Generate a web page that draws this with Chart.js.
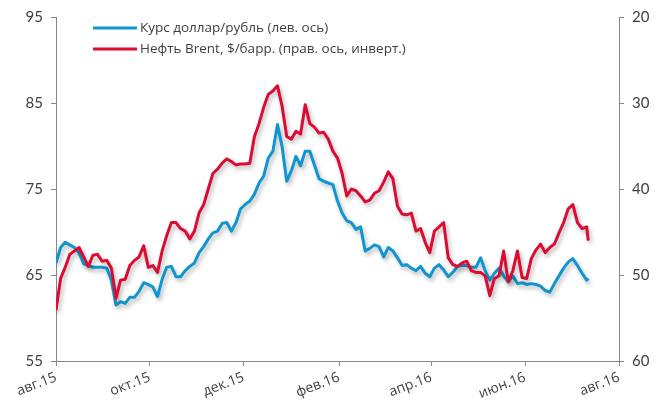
<!DOCTYPE html>
<html>
<head>
<meta charset="utf-8">
<script src="https://cdn.jsdelivr.net/npm/chart.js@4"></script>
<style>
  html, body { margin: 0; padding: 0; background: #fff; }
  #wrap { width: 659px; height: 408px; }
</style>
</head>
<body>
<div id="wrap"><canvas id="rubChart" width="659" height="408"></canvas></div>
<script>
// Dates of the readings (every 3 days)
const dates = [
    '2015-08-01', '2015-08-04', '2015-08-07', '2015-08-10', '2015-08-13', '2015-08-16', '2015-08-19', '2015-08-22',
    '2015-08-25', '2015-08-28', '2015-08-31', '2015-09-03', '2015-09-06', '2015-09-09', '2015-09-12', '2015-09-15',
    '2015-09-18', '2015-09-21', '2015-09-24', '2015-09-27', '2015-09-30', '2015-10-03', '2015-10-06', '2015-10-09',
    '2015-10-12', '2015-10-15', '2015-10-18', '2015-10-21', '2015-10-24', '2015-10-27', '2015-10-30', '2015-11-02',
    '2015-11-05', '2015-11-08', '2015-11-11', '2015-11-14', '2015-11-17', '2015-11-20', '2015-11-23', '2015-11-26',
    '2015-11-29', '2015-12-02', '2015-12-05', '2015-12-08', '2015-12-11', '2015-12-14', '2015-12-17', '2015-12-20',
    '2015-12-23', '2015-12-26', '2015-12-29', '2016-01-01', '2016-01-04', '2016-01-07', '2016-01-10', '2016-01-13',
    '2016-01-16', '2016-01-19', '2016-01-22', '2016-01-25', '2016-01-28', '2016-01-31', '2016-02-03', '2016-02-06',
    '2016-02-09', '2016-02-12', '2016-02-15', '2016-02-18', '2016-02-21', '2016-02-24', '2016-02-27', '2016-03-01',
    '2016-03-04', '2016-03-07', '2016-03-10', '2016-03-13', '2016-03-16', '2016-03-19', '2016-03-22', '2016-03-25',
    '2016-03-28', '2016-03-31', '2016-04-03', '2016-04-06', '2016-04-09', '2016-04-12', '2016-04-15', '2016-04-18',
    '2016-04-21', '2016-04-24', '2016-04-27', '2016-04-30', '2016-05-03', '2016-05-06', '2016-05-09', '2016-05-12',
    '2016-05-15', '2016-05-18', '2016-05-21', '2016-05-24', '2016-05-27', '2016-05-30', '2016-06-02', '2016-06-05',
    '2016-06-08', '2016-06-11', '2016-06-14', '2016-06-17', '2016-06-20', '2016-06-23', '2016-06-26', '2016-06-29',
    '2016-07-02', '2016-07-05', '2016-07-08', '2016-07-11', '2016-07-12'
];

// USD/RUB, left axis
const usdRub = [
    66.4, 68.2, 68.8, 68.5, 68.2, 67.6, 66.3, 66.1, 65.9, 65.9, 65.9, 65.8, 64.4, 61.5, 61.9, 61.7,
    62.4, 62.4, 63.1, 64.1, 63.9, 63.6, 62.5, 64.5, 65.9, 66.0, 64.8, 64.8, 65.5, 66.0, 66.4, 67.6,
    68.3, 69.2, 69.9, 70.1, 71.0, 71.1, 70.1, 71.1, 72.7, 73.2, 73.6, 74.4, 75.7, 76.5, 78.6, 79.4,
    82.5, 79.9, 75.9, 77.1, 78.8, 77.7, 79.4, 79.4, 77.8, 76.2, 75.9, 75.7, 75.5, 73.6, 72.2, 71.3,
    71.1, 70.3, 70.6, 67.8, 68.1, 68.5, 68.3, 67.1, 68.2, 67.8, 67.0, 66.1, 66.2, 65.8, 65.5, 66.0,
    65.2, 64.8, 65.8, 66.2, 65.6, 64.8, 65.3, 66.0, 66.1, 66.1, 65.9, 65.9, 67.0, 65.5, 64.4, 65.2,
    65.8, 64.9, 64.2, 64.9, 64.0, 64.1, 63.9, 64.0, 63.9, 63.7, 63.2, 63.0, 64.0, 64.9, 65.8, 66.5,
    66.9, 66.1, 65.2, 64.4, 64.6
];

// Brent, $/bbl, right axis (inverted)
const brent = [
    54.1, 50.4, 49.1, 47.6, 47.2, 46.8, 47.9, 49.0, 47.7, 47.6, 48.4, 48.3, 49.2, 52.7, 50.6, 50.5,
    48.9, 48.3, 47.9, 46.6, 49.1, 48.9, 49.7, 47.2, 45.4, 43.9, 43.9, 44.6, 44.9, 45.8, 44.9, 42.8,
    41.8, 40.0, 38.2, 37.7, 37.0, 36.5, 36.8, 37.2, 37.1, 37.1, 37.0, 33.9, 32.4, 30.5, 29.0, 28.6,
    28.0, 30.4, 33.9, 34.2, 33.3, 33.6, 30.2, 32.4, 32.8, 33.5, 33.4, 34.2, 35.6, 36.4, 38.2, 40.8,
    40.0, 40.2, 40.8, 41.5, 41.3, 40.5, 40.2, 39.2, 38.0, 38.8, 42.0, 42.9, 43.0, 42.8, 44.9, 44.6,
    46.2, 47.4, 44.9, 44.4, 43.9, 48.0, 48.8, 49.0, 48.6, 48.4, 49.5, 49.7, 49.7, 50.1, 52.4, 50.4,
    50.1, 47.2, 50.8, 49.5, 47.2, 50.3, 50.4, 48.1, 47.1, 46.4, 47.4, 46.8, 46.4, 45.1, 43.9, 42.3,
    41.8, 43.9, 44.6, 44.4, 46.0
];

const seriesNames = ['Курс доллар/рубль (лев. ось)', 'Нефть Brent, $/барр. (прав. ось, инверт.)'];
const seriesColors = ['#0f95cf', '#dc0b33'];

const tickDates = ['2015-08-01', '2015-10-01', '2015-12-01', '2016-02-01', '2016-04-01', '2016-06-01', '2016-08-01'];
const tickLabels = ['авг.15', 'окт.15', 'дек.15', 'фев.16', 'апр.16', 'июн.16', 'авг.16'];

const leftTicks = [55, 65, 75, 85, 95];
const rightTicks = [20, 30, 40, 50, 60];

const FONT = 'Lato, "Open Sans", sans-serif';
const TEXT_COLOR = '#404040';
const AXIS_COLOR = '#868686';

// days since 1 Aug 2015
function dayOf(s) {
    const p = s.split('-').map(Number);
    return (Date.UTC(p[0], p[1] - 1, p[2]) - Date.UTC(2015, 7, 1)) / 86400000;
}

const toPoints = values => values.map((v, i) => ({ x: dayOf(dates[i]), y: v }));

// soft drop shadow under the lines, as in the original
const shadowPlugin = {
    id: 'lineShadow',
    beforeDatasetDraw(chart) {
        const ctx = chart.ctx;
        ctx.save();
        ctx.shadowColor = 'rgba(0, 0, 0, 0.28)';
        ctx.shadowBlur = 4;
        ctx.shadowOffsetX = 2;
        ctx.shadowOffsetY = 3;
    },
    afterDatasetDraw(chart) {
        chart.ctx.restore();
    }
};

// legend drawn inside the plot, top left
const innerLegend = {
    id: 'innerLegend',
    afterDraw(chart) {
        const ctx = chart.ctx;
        ctx.save();
        ctx.font = '13.5px "Open Sans", sans-serif';
        ctx.textBaseline = 'middle';
        chart.data.datasets.forEach((ds, i) => {
            const y = 28 + i * 21;
            ctx.strokeStyle = ds.borderColor;
            ctx.lineWidth = 3;
            ctx.beginPath();
            ctx.moveTo(93, y);
            ctx.lineTo(137, y);
            ctx.stroke();
            ctx.fillStyle = TEXT_COLOR;
            ctx.fillText(ds.label, 140, y);
        });
        ctx.restore();
    }
};

const axisGrid = {
    display: true,
    drawOnChartArea: false,
    drawTicks: true,
    tickLength: 5,
    color: AXIS_COLOR
};

const ctx = document.getElementById('rubChart');
const rubChart = new Chart(ctx, {
    type: 'line',
    data: {
        datasets: [{
            label: seriesNames[0],
            data: toPoints(usdRub),
            borderColor: seriesColors[0],
            yAxisID: 'yLeft',
            order: 1
        }, {
            label: seriesNames[1],
            data: toPoints(brent),
            borderColor: seriesColors[1],
            yAxisID: 'yRight',
            order: 0
        }]
    },
    options: {
        responsive: false,
        animation: false,
        devicePixelRatio: 1,
        layout: { padding: { top: 15, right: 0, bottom: 0, left: 0 } },
        elements: {
            line: { borderWidth: 3, tension: 0, borderJoinStyle: 'round' },
            point: { radius: 0 }
        },
        plugins: {
            legend: { display: false },
            tooltip: { enabled: false }
        },
        scales: {
            x: {
                type: 'linear',
                min: 0,
                max: dayOf(tickDates[tickDates.length - 1]),
                grid: axisGrid,
                border: { display: true, color: AXIS_COLOR, width: 1 },
                afterBuildTicks: s => { s.ticks = tickDates.map(d => ({ value: dayOf(d) })); },
                afterFit: s => { s.height = 47; },
                ticks: {
                    autoSkip: false,
                    maxRotation: 21,
                    minRotation: 21,
                    padding: 3,
                    color: TEXT_COLOR,
                    font: { family: '"Open Sans", sans-serif', size: 14 },
                    callback: (v, i) => tickLabels[i]
                }
            },
            yLeft: {
                position: 'left',
                min: 55,
                max: 95,
                grid: axisGrid,
                border: { display: true, color: AXIS_COLOR, width: 1 },
                afterBuildTicks: s => { s.ticks = leftTicks.map(v => ({ value: v })); },
                afterFit: s => { s.width = 56; },
                ticks: {
                    padding: 8,
                    color: TEXT_COLOR,
                    font: { family: FONT, size: 15 }
                }
            },
            yRight: {
                position: 'right',
                reverse: true,
                min: 20,
                max: 60,
                grid: axisGrid,
                border: { display: true, color: AXIS_COLOR, width: 1 },
                afterBuildTicks: s => { s.ticks = rightTicks.map(v => ({ value: v })); },
                afterFit: s => { s.width = 40; },
                ticks: {
                    padding: 8,
                    color: TEXT_COLOR,
                    font: { family: FONT, size: 15 }
                }
            }
        }
    },
    plugins: [shadowPlugin, innerLegend]
});
</script>
</body>
</html>
